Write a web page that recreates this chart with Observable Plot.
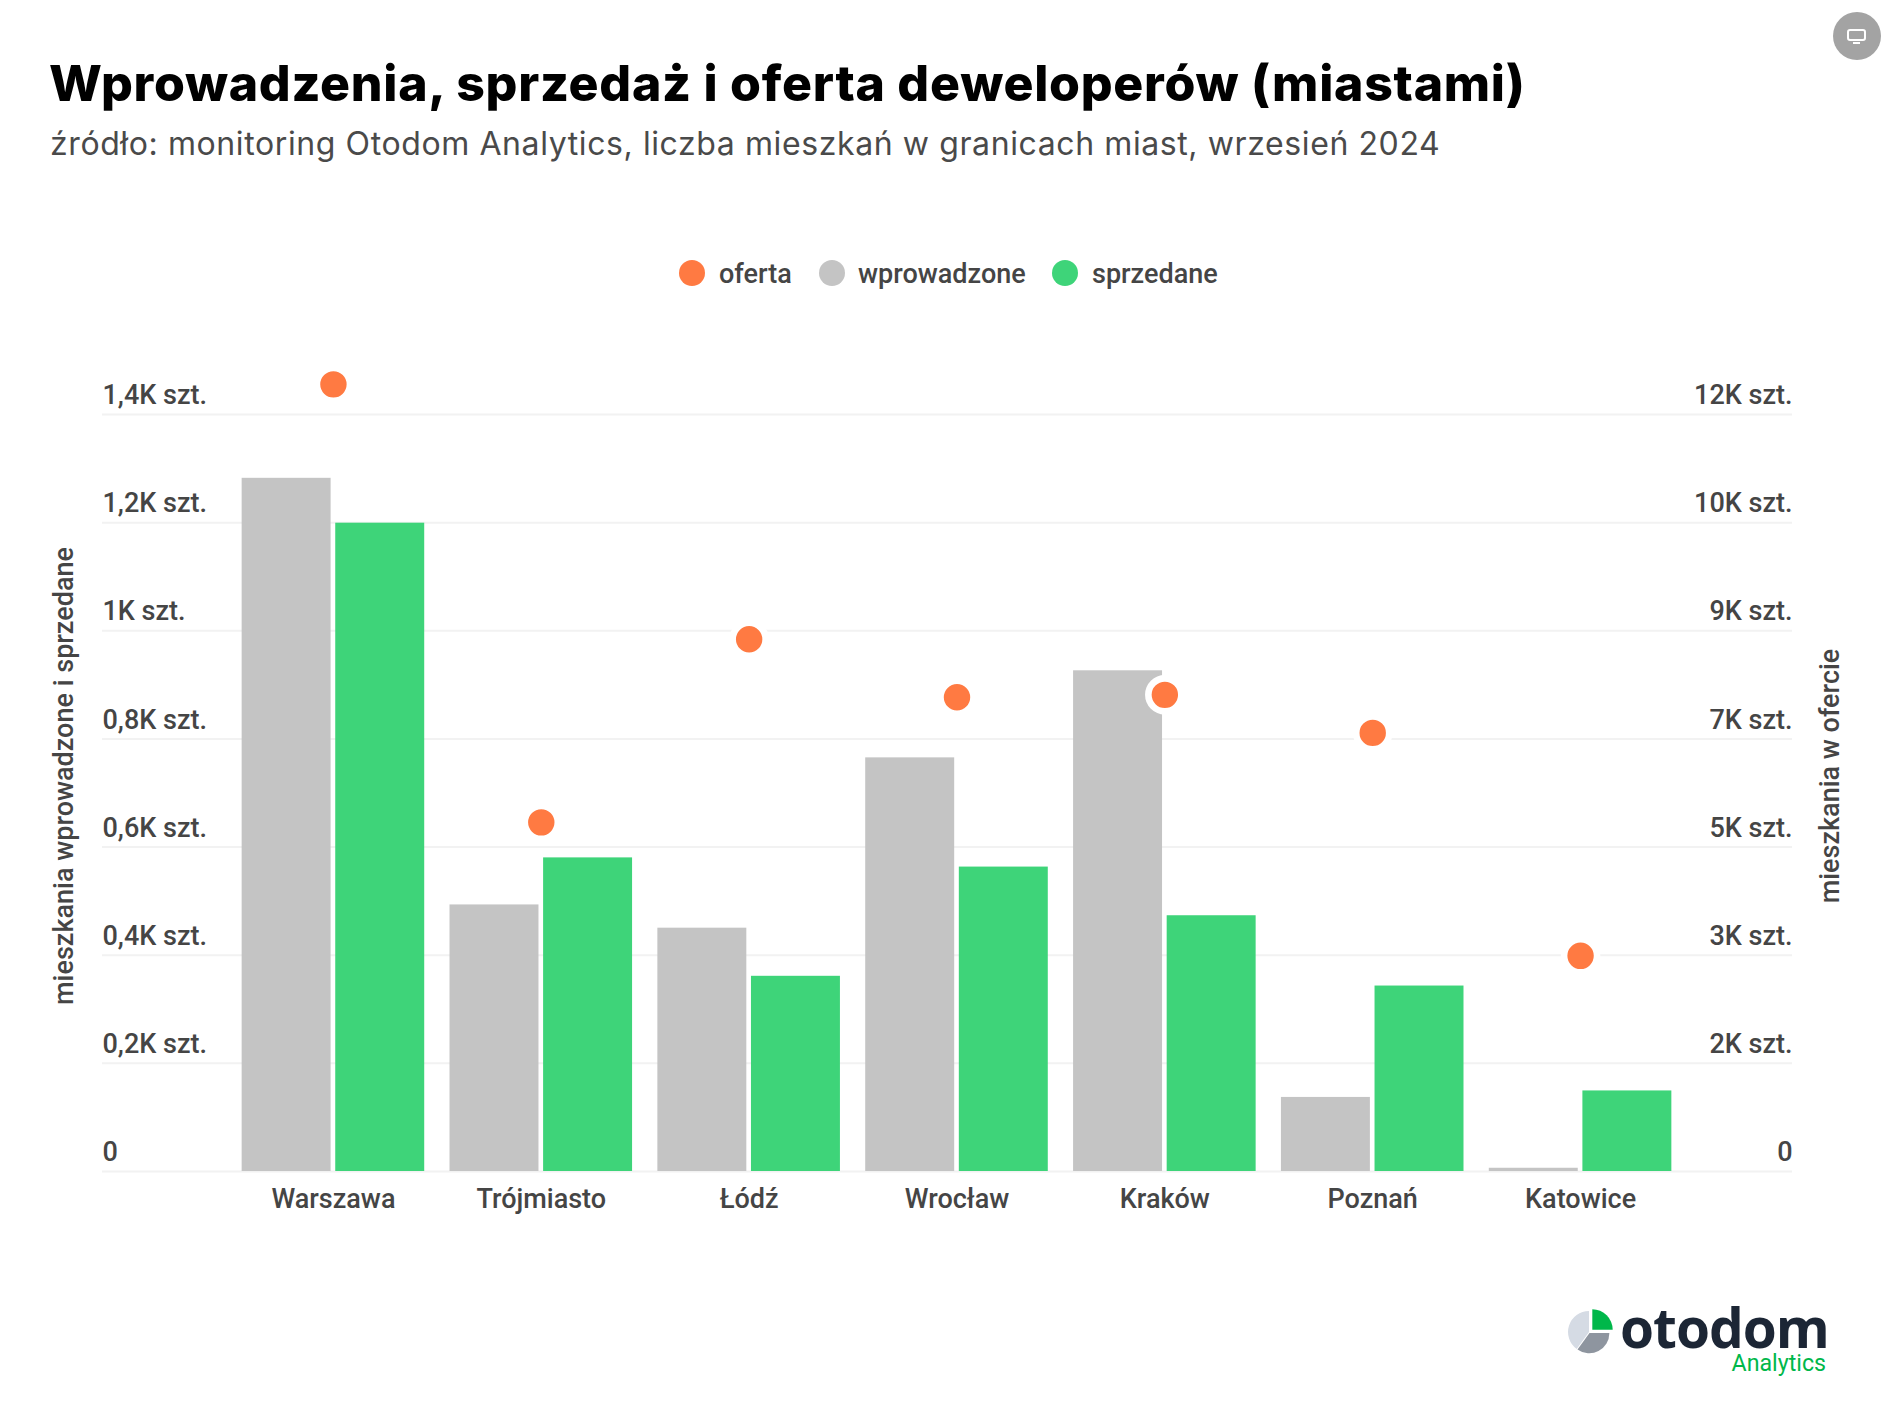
<!DOCTYPE html>
<html lang="pl"><head><meta charset="utf-8">
<script src="https://cdn.jsdelivr.net/npm/d3@7"></script>
<script src="https://cdn.jsdelivr.net/npm/@observablehq/plot@0.6"></script>
<style>
html,body{margin:0;padding:0;background:#fff}
#page{position:relative;width:1893px;height:1407px;overflow:hidden;font-family:Roboto,sans-serif}
#title{position:absolute;left:49px;top:50px;margin:0;font:800 50px/66px Inter,sans-serif;letter-spacing:.72px;color:#000;white-space:nowrap}
#sub{position:absolute;left:50px;top:122px;margin:0;font:400 32px/44px Inter,sans-serif;letter-spacing:.6px;color:#4a4a4a;white-space:nowrap}
#legend span{position:absolute;font:500 27px/32px Roboto,sans-serif;color:#454545;top:258px}
#legend i{position:absolute;width:26px;height:26px;border-radius:50%;top:260px}
#chart{position:absolute;left:0;top:340px}
#logoText{position:absolute;left:1620px;top:1305px;font:700 55px/44px "Open Sans",sans-serif;color:#1c2635;letter-spacing:-1px}
#logoSub{position:absolute;right:67px;top:1350px;font:400 23.2px/26px Roboto,sans-serif;color:#00b74a}
svg.deco{position:absolute}
</style></head><body>
<div id="page">
<h1 id="title">Wprowadzenia, sprzedaż i oferta deweloperów (miastami)</h1>
<p id="sub">źródło: monitoring Otodom Analytics, liczba mieszkań w granicach miast, wrzesień 2024</p>
<div id="legend"></div>
<div id="chart"></div>
<svg class="deco" style="left:1832px;top:12px" width="50" height="50" viewBox="0 0 50 50"><circle cx="25" cy="24" r="24" fill="#a3a3a3"/><rect x="16" y="18" width="17" height="10" rx="2" fill="none" stroke="#fff" stroke-width="2"/><path d="M21 31h7" stroke="#fff" stroke-width="2"/></svg>
<svg class="deco" style="left:1566px;top:1305px" width="50" height="50" viewBox="0 0 50 50"><path d="M23 27V6A21 21 0 0 0 10.7 44Z" fill="#d5dbe4"/><path d="M23.5 28H43.3A20 20 0 0 1 11.5 44.5Z" fill="#8e959f"/><path d="M26.3 4.3A20.4 20.4 0 0 1 46.7 24.7H26.3Z" fill="#00b74a"/></svg>
<div id="logoText">otodom</div>
<div id="logoSub">Analytics</div>
</div>
<script>
const cities = ["Warszawa","Trójmiasto","Łódź","Wrocław","Kraków","Poznań","Katowice"];
const wprowadzone = [1282,493,450,765,926,137,6];
const sprzedane = [1199,580,361,563,473,343,149];
const oferta = [12478,5535,8437,7518,7556,6953,3419];
const leftTicks = [0,200,400,600,800,1000,1200,1400];
const leftLabels = ["0","0,2K szt.","0,4K szt.","0,6K szt.","0,8K szt.","1K szt.","1,2K szt.","1,4K szt."];
const rightLabels = ["0","2K szt.","3K szt.","5K szt.","7K szt.","9K szt.","10K szt.","12K szt."];
const legendNames = ["oferta","wprowadzone","sprzedane"];
const colors = ["#ff7a42","#c4c4c4","#3ed479"];

const leftMax = 1400, rightMax = 12000;
const rows = cities.map((city,i)=>({city,w:wprowadzone[i],s:sprzedane[i],o:oferta[i]*leftMax/rightMax}));

const legendX = [[679,719],[819,858],[1052,1092]];
const legend = d3.select("#legend");
legendNames.forEach((n,i)=>{
  legend.append("i").style("left",legendX[i][0]+"px").style("background",colors[i]);
  legend.append("span").style("left",legendX[i][1]+"px").text(n);
});

const textFont = {fontSize:27,fontWeight:500,fill:"#454545",fontFamily:"Roboto"};
const chart = Plot.plot({
  width:1893,height:1000,marginTop:74,marginBottom:169,marginLeft:102,marginRight:101,
  style:{background:"transparent",overflow:"visible"},
  x:{domain:cities,range:[229,1684],paddingInner:0.572,paddingOuter:0.286,round:false,axis:null},
  y:{domain:[0,leftMax],axis:null},
  marks:[
    Plot.ruleY(leftTicks,{stroke:"#f2f2f2",strokeWidth:2}),
    Plot.barY(rows,{x:"city",y:"w",fill:colors[1],dx:-46.8}),
    Plot.barY(rows,{x:"city",y:"s",fill:colors[2],dx:46.8}),
    Plot.dot(rows,{x:"city",y:"o",r:16.5,fill:colors[0],stroke:"#fff",strokeWidth:6.6}),
    Plot.text(leftTicks,{y:d=>d,text:(d,i)=>leftLabels[i],frameAnchor:"left",textAnchor:"start",dy:-19,...textFont}),
    Plot.text(leftTicks,{y:d=>d,text:(d,i)=>rightLabels[i],frameAnchor:"right",textAnchor:"end",dy:-19,...textFont}),
    Plot.text(cities,{x:d=>d,text:d=>d,frameAnchor:"bottom",lineAnchor:"middle",dy:28,...textFont}),
    Plot.text(["mieszkania wprowadzone i sprzedane"],{frameAnchor:"left",textAnchor:"middle",rotate:-90,dx:-38,dy:-17,...textFont}),
    Plot.text(["mieszkania w ofercie"],{frameAnchor:"right",textAnchor:"middle",rotate:-90,dx:38,dy:-17,...textFont})
  ]
});
document.getElementById("chart").appendChild(chart);
</script>
</body></html>
